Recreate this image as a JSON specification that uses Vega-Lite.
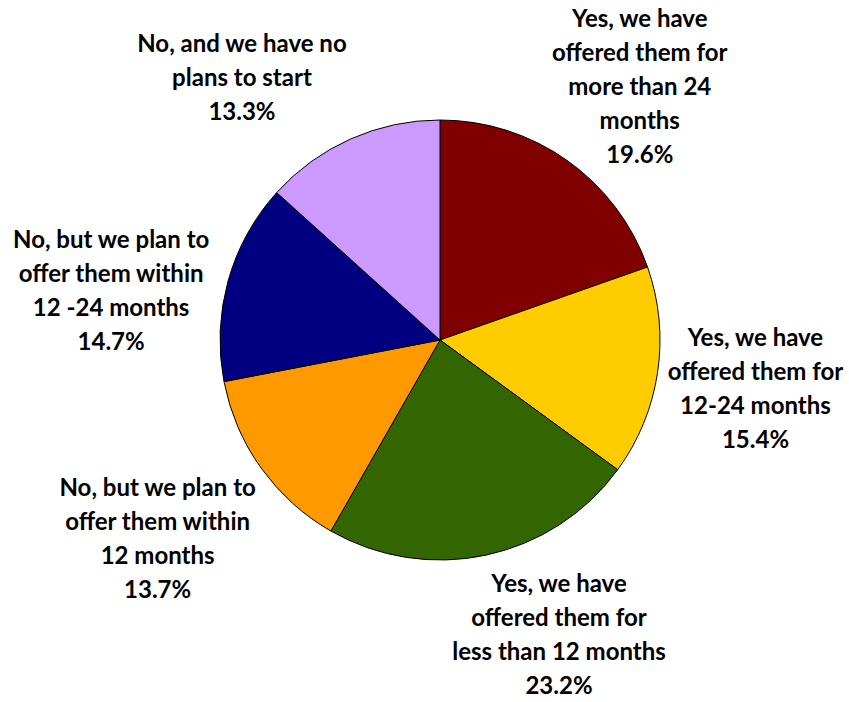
{
  "$schema": "https://vega.github.io/schema/vega-lite/v6.json",
  "autosize": "none",
  "width": 818,
  "height": 680,
  "padding": {"left": 31, "right": 0, "top": 0, "bottom": 22},
  "background": "white",
  "data": {
    "values": [
      {"idx": 1, "category": "Yes, we have offered them for more than 24 months", "text": "Yes, we have\noffered them for\nmore than 24\nmonths\n19.6%", "value": 19.6},
      {"idx": 2, "category": "Yes, we have offered them for 12-24 months", "text": "Yes, we have\noffered them for\n12-24 months\n15.4%", "value": 15.4},
      {"idx": 3, "category": "Yes, we have offered them for less than 12 months", "text": "Yes, we have\noffered them for\nless than 12 months\n23.2%", "value": 23.2},
      {"idx": 4, "category": "No, but we plan to offer them within 12 months", "text": "No, but we plan to\noffer them within\n12 months\n13.7%", "value": 13.7},
      {"idx": 5, "category": "No, but we plan to offer them within 12 -24 months", "text": "No, but we plan to\noffer them within\n12 -24 months\n14.7%", "value": 14.7},
      {"idx": 6, "category": "No, and we have no plans to start", "text": "No, and we have no\nplans to start\n13.3%", "value": 13.3}
    ]
  },
  "transform": [
    {"stack": "value", "groupby": [], "sort": [{"field": "idx", "order": "ascending"}], "as": ["v0", "v1"]},
    {"calculate": "(datum.v0 + datum.v1) / 2", "as": "mid"}
  ],
  "layer": [
    {
      "mark": {"type": "arc", "outerRadius": 220, "stroke": "black", "strokeWidth": 1},
      "encoding": {
        "theta": {"field": "v0", "type": "quantitative", "scale": {"domain": [0, 99.9]}},
        "theta2": {"field": "v1"},
        "color": {
          "field": "category",
          "type": "nominal",
          "sort": null,
          "scale": {
            "domain": [
              "Yes, we have offered them for more than 24 months",
              "Yes, we have offered them for 12-24 months",
              "Yes, we have offered them for less than 12 months",
              "No, but we plan to offer them within 12 months",
              "No, but we plan to offer them within 12 -24 months",
              "No, and we have no plans to start"
            ],
            "range": ["#800000", "#FFCC00", "#336600", "#FF9900", "#000080", "#CC99FF"]
          },
          "legend": null
        }
      }
    },
    {
      "transform": [{"filter": "datum.idx == 1"}],
      "mark": {"type": "text", "radius": 330, "dx": 9, "dy": -51, "font": "Lato", "fontWeight": "bold", "fontSize": 24, "lineHeight": 34, "lineBreak": "\n", "align": "center", "baseline": "middle", "color": "black"},
      "encoding": {"theta": {"field": "mid", "type": "quantitative"}, "text": {"field": "text", "type": "nominal"}}
    },
    {
      "transform": [{"filter": "datum.idx == 2"}],
      "mark": {"type": "text", "radius": 330, "dx": -11, "dy": -49, "font": "Lato", "fontWeight": "bold", "fontSize": 24, "lineHeight": 34, "lineBreak": "\n", "align": "center", "baseline": "middle", "color": "black"},
      "encoding": {"theta": {"field": "mid", "type": "quantitative"}, "text": {"field": "text", "type": "nominal"}}
    },
    {
      "transform": [{"filter": "datum.idx == 3"}],
      "mark": {"type": "text", "radius": 330, "dx": 50, "dy": -78, "font": "Lato", "fontWeight": "bold", "fontSize": 24, "lineHeight": 34, "lineBreak": "\n", "align": "center", "baseline": "middle", "color": "black"},
      "encoding": {"theta": {"field": "mid", "type": "quantitative"}, "text": {"field": "text", "type": "nominal"}}
    },
    {
      "transform": [{"filter": "datum.idx == 4"}],
      "mark": {"type": "text", "radius": 330, "dx": -14, "dy": -43, "font": "Lato", "fontWeight": "bold", "fontSize": 24, "lineHeight": 34, "lineBreak": "\n", "align": "center", "baseline": "middle", "color": "black"},
      "encoding": {"theta": {"field": "mid", "type": "quantitative"}, "text": {"field": "text", "type": "nominal"}}
    },
    {
      "transform": [{"filter": "datum.idx == 5"}],
      "mark": {"type": "text", "radius": 330, "dx": -11, "dy": -10, "font": "Lato", "fontWeight": "bold", "fontSize": 24, "lineHeight": 34, "lineBreak": "\n", "align": "center", "baseline": "middle", "color": "black"},
      "encoding": {"theta": {"field": "mid", "type": "quantitative"}, "text": {"field": "text", "type": "nominal"}}
    },
    {
      "transform": [{"filter": "datum.idx == 6"}],
      "mark": {"type": "text", "radius": 330, "dx": -64, "dy": 7, "font": "Lato", "fontWeight": "bold", "fontSize": 24, "lineHeight": 34, "lineBreak": "\n", "align": "center", "baseline": "middle", "color": "black"},
      "encoding": {"theta": {"field": "mid", "type": "quantitative"}, "text": {"field": "text", "type": "nominal"}}
    }
  ],
  "config": {"view": {"stroke": null}}
}
